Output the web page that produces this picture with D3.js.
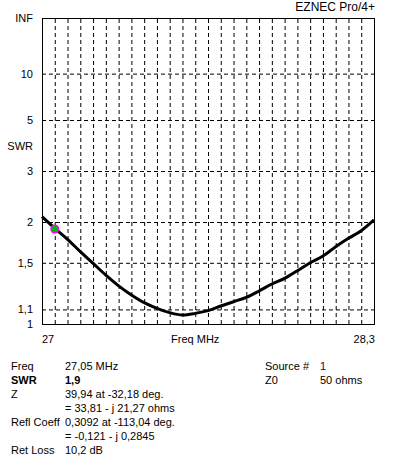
<!DOCTYPE html>
<meta charset="utf-8">
<style>
body { margin: 0; background: #fff; }
svg { font-family: "Liberation Sans", Arial, sans-serif; }
.grid line { stroke: #000; stroke-width: 1; stroke-dasharray: 4,3; }
.grid path { display: none; }
.yaxis path, .yaxis line { display: none; }
.yaxis text { font-size: 11px; fill: #000; }
.lbl { font-size: 11px; fill: #000; }
.info { font-size: 11px; fill: #000; }
</style>
<svg width="396" height="466"></svg>
<script src="https://d3js.org/d3.v7.min.js"></script>
<script>

// frequency sweep, MHz
var freqs = [27.00, 27.05, 27.10, 27.15, 27.20, 27.25, 27.30, 27.35, 27.40, 27.45,
             27.50, 27.55, 27.60, 27.65, 27.70, 27.75, 27.80, 27.85, 27.90, 27.95,
             28.00, 28.05, 28.10, 28.15, 28.20, 28.25, 28.30];
// SWR
var swr = [2.08, 1.91, 1.765, 1.62, 1.495, 1.38, 1.285, 1.21, 1.15, 1.108,
           1.077, 1.061, 1.072, 1.091, 1.125, 1.157, 1.191, 1.242, 1.301, 1.351,
           1.422, 1.501, 1.571, 1.676, 1.778, 1.877, 2.03];

var yTickValues = [1, 1.1, 1.5, 2, 3, 5, 10, Infinity];
var yTickLabels = ["1", "1,1", "1,5", "2", "3", "5", "10", "INF"];
var yGridValues = [1.1, 1.5, 2, 3, 5, 10];

var markerFreq = 27.05, markerSwr = 1.9;

var infoLeft = [
  ["Freq", "27,05 MHz"],
  ["SWR", "1,9"],
  ["Z", "39,94 at -32,18 deg."],
  ["", "= 33,81 - j 21,27 ohms"],
  ["Refl Coeff", "0,3092 at -113,04 deg."],
  ["", "= -0,121 - j 0,2845"],
  ["Ret Loss", "10,2 dB"]
];
var infoRight = [
  ["Source #", "1"],
  ["Z0", "50 ohms"]
];

var svg = d3.select("svg");
var margin = {left: 42, top: 18},
    width = 332,
    height = 306;

var g = svg.append("g").attr("transform", "translate(" + margin.left + "," + margin.top + ")");

var x = d3.scaleLinear().domain([27, 28.3]).range([0, width]);
// SWR axis is linear in reflection coefficient
var rho = d3.scaleLinear().domain([0, 1]).range([height, 0]);
function toRho(s) { return s === Infinity ? 1 : (s - 1) / (s + 1); }
function y(s) { return rho(toRho(s)); }

// vertical grid
g.append("g")
    .attr("class", "grid")
    .attr("transform", "translate(0," + height + ")")
    .call(d3.axisBottom(x)
        .tickValues(freqs.slice(1, -1))
        .tickSizeInner(-height).tickSizeOuter(0)
        .tickFormat(""));

// horizontal grid
g.append("g")
    .attr("class", "grid")
    .call(d3.axisLeft(rho)
        .tickValues(yGridValues.map(toRho))
        .tickSizeInner(-width).tickSizeOuter(0)
        .tickFormat(""));

// y labels
g.append("g")
    .attr("class", "yaxis")
    .call(d3.axisLeft(rho)
        .tickValues(yTickValues.map(toRho))
        .tickSize(0).tickPadding(9)
        .tickFormat(function(d, i) { return yTickLabels[i]; }));

g.append("text").attr("class", "lbl")
    .attr("x", -9).attr("y", (y(5) + y(3)) / 2 + 4)
    .attr("text-anchor", "end")
    .text("SWR");

// frame
g.append("rect")
    .attr("x", 0.5).attr("y", 0.5)
    .attr("width", width).attr("height", height)
    .attr("fill", "none").attr("stroke", "#000");

// x labels
g.append("text").attr("class", "lbl")
    .attr("x", x(27)).attr("y", height + 19)
    .text("27");
g.append("text").attr("class", "lbl")
    .attr("x", x(27.6)).attr("y", height + 19)
    .attr("text-anchor", "middle")
    .text("Freq MHz");
g.append("text").attr("class", "lbl")
    .attr("x", x(28.3) + 1).attr("y", height + 19)
    .attr("text-anchor", "end")
    .text("28,3");

svg.append("text")
    .attr("x", 375).attr("y", 11)
    .attr("text-anchor", "end")
    .style("font-size", "12px")
    .text("EZNEC Pro/4+");

// curve
var line = d3.line()
    .x(function(d, i) { return x(freqs[i]); })
    .y(function(d) { return y(d); })
    .curve(d3.curveMonotoneX);

g.append("path")
    .datum(swr)
    .attr("d", line)
    .attr("fill", "none")
    .attr("stroke", "#000")
    .attr("stroke-width", 3)
    .attr("stroke-linejoin", "round");

// marker, dithered magenta/green
var pat = svg.append("defs").append("pattern")
    .attr("id", "dither")
    .attr("width", 2).attr("height", 2)
    .attr("patternUnits", "userSpaceOnUse");
pat.append("rect").attr("width", 2).attr("height", 2).attr("fill", "#ff00ff");
pat.append("rect").attr("width", 1).attr("height", 1).attr("fill", "#00c000");
pat.append("rect").attr("x", 1).attr("y", 1).attr("width", 1).attr("height", 1).attr("fill", "#00c000");

g.append("circle")
    .attr("cx", x(markerFreq)).attr("cy", y(markerSwr))
    .attr("r", 4.5)
    .attr("fill", "#ff00ff");
g.append("circle")
    .attr("cx", x(markerFreq)).attr("cy", y(markerSwr))
    .attr("r", 3)
    .attr("fill", "url(#dither)");

// readout
var info = svg.append("g").attr("class", "info");
infoLeft.forEach(function(r, i) {
  var yy = 369.5 + i * 14;
  var bold = r[0] === "SWR" ? "bold" : "normal";
  info.append("text").attr("x", 11).attr("y", yy).style("font-weight", bold).text(r[0]);
  info.append("text").attr("x", 65).attr("y", yy).style("font-weight", bold).text(r[1]);
});
infoRight.forEach(function(r, i) {
  var yy = 369.5 + i * 14;
  info.append("text").attr("x", 265).attr("y", yy).text(r[0]);
  info.append("text").attr("x", 320).attr("y", yy)
      .attr("fill", i === 0 ? "#400040" : "#000").text(r[1]);
});

</script>
